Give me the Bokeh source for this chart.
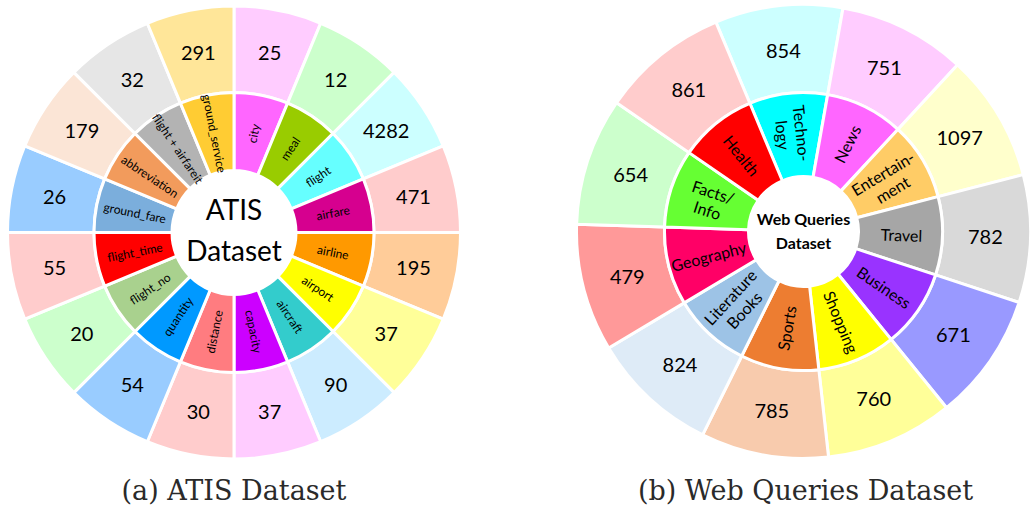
import math
from bokeh.plotting import figure
from bokeh.models import Range1d, ColumnDataSource
from bokeh.core.properties import value
from bokeh.embed import file_html
from bokeh.resources import INLINE

# ---------------- data ----------------
atis_labels = ["city", "meal", "flight", "airfare", "airline", "airport", "aircraft", "capacity",
               "distance", "quantity", "flight_no", "flight_time", "ground_fare", "abbreviation",
               "flight + airfareit", "ground_service"]
atis_counts = [25, 12, 4282, 471, 195, 37, 90, 37, 30, 54, 20, 55, 26, 179, 32, 291]
atis_inner_colors = ["#FF66FF", "#99CC00", "#66FFFF", "#D6008F", "#FF9900", "#FFFF00", "#33CCCC", "#CC00FF",
                     "#FF7C80", "#0099FF", "#A9D18E", "#FF0000", "#7BAEDC", "#F29B5C", "#B3B3B3", "#FFCC33"]
atis_outer_colors = ["#FFCCFF", "#CCFFCC", "#CCFFFF", "#FFCCCC", "#FFCC99", "#FFFF99", "#CCECFF", "#FFCCFF",
                     "#FFCCCC", "#99CCFF", "#CCFFCC", "#FFCCCC", "#99CCFF", "#FBE5D6", "#E6E6E6", "#FFE699"]

web_labels = ["Techno-\nlogy", "News", "Entertain-\nment", "Travel", "Business", "Shopping", "Sports",
              "Literature\nBooks", "Geography", "Facts/\nInfo", "Health"]
web_counts = [854, 751, 1097, 782, 671, 760, 785, 824, 479, 654, 861]
web_inner_colors = ["#00FFFF", "#FF66FF", "#FFCC66", "#A6A6A6", "#9933FF", "#FFFF00", "#ED7D31",
                    "#9DC3E6", "#FF0066", "#66FF33", "#FF0000"]
web_outer_colors = ["#CCFFFF", "#FFCCFF", "#FFFFCC", "#D9D9D9", "#9999FF", "#FFFF99", "#F8CBAD",
                    "#DEEBF7", "#FF9999", "#CCFFCC", "#FFCCCC"]

captions = ["(a) ATIS Dataset", "(b) Web Queries Dataset"]
center_titles = ["ATIS\nDataset", "Web Queries\nDataset"]

# ---------------- layout ----------------
W, H = 1030, 508
p = figure(width=W, height=H, x_range=Range1d(0, W), y_range=Range1d(0, H),
           min_border=0, outline_line_color=None, toolbar_location=None, output_backend="svg")
p.axis.visible = False
p.grid.visible = False
p.background_fill_color = "white"
p.border_fill_color = "white"

FONT = value("Lato")


def donut(cx, cy, r0, r1, r2, start_deg, labels, counts, inner_cols, outer_cols,
          label_size, num_size, label_r, num_r):
    n = len(labels)
    step = 360.0 / n
    starts, ends, mids, rots = [], [], [], []
    for k in range(n):
        hi = start_deg - k * step
        lo = hi - step
        m = (hi + lo) / 2.0
        m = ((m + 180) % 360) - 180
        starts.append(math.radians(lo))
        ends.append(math.radians(hi))
        mids.append(m)
        if m > 90:
            rots.append(math.radians(m - 180))
        elif m < -90:
            rots.append(math.radians(m + 180))
        else:
            rots.append(math.radians(m))
    src = ColumnDataSource(dict(
        s=starts, e=ends, ic=inner_cols, oc=outer_cols,
        lx=[cx + label_r * math.cos(math.radians(m)) for m in mids],
        ly=[cy + label_r * math.sin(math.radians(m)) for m in mids],
        nx=[cx + num_r * math.cos(math.radians(m)) for m in mids],
        ny=[cy + num_r * math.sin(math.radians(m)) for m in mids],
        rot=rots, lab=labels, num=[str(c) for c in counts]))
    p.annular_wedge(x=cx, y=cy, inner_radius=r1, outer_radius=r2, start_angle="s", end_angle="e",
                    fill_color="oc", line_color="white", line_width=3, source=src)
    p.annular_wedge(x=cx, y=cy, inner_radius=r0, outer_radius=r1, start_angle="s", end_angle="e",
                    fill_color="ic", line_color="white", line_width=3, source=src)
    p.text(x="lx", y="ly", text="lab", angle="rot", source=src, text_align="center",
           text_baseline="middle", text_font=FONT, text_font_size=label_size, text_color="black",
           text_line_height=1.0)
    p.text(x="nx", y="ny", text="num", source=src, text_align="center",
           text_baseline="middle", text_font=FONT, text_font_size=num_size, text_color="black")


# left: ATIS
lcx, lcy = 233.5, H - 232
donut(lcx, lcy, 62, 140, 226.5, 90.0, atis_labels, atis_counts, atis_inner_colors, atis_outer_colors,
      "12px", "20px", 101, 183)
p.text(x=[lcx], y=[H - 229], text=[center_titles[0]], text_align="center", text_baseline="middle",
       text_font=FONT, text_font_size="28px", text_color="black", text_line_height=1.18)

# right: Web Queries
rcx, rcy = 803, H - 231
donut(rcx, rcy, 55, 139, 227, 112.7, web_labels, web_counts, web_inner_colors, web_outer_colors,
      "16px", "20px", 98, 182)
p.text(x=[rcx], y=[H - 230], text=[center_titles[1]], text_align="center", text_baseline="middle",
       text_font=FONT, text_font_size="16px", text_font_style="bold", text_color="black",
       text_line_height=1.25)

# captions
p.text(x=[lcx, rcx + 2], y=[H - 490, H - 490], text=captions, text_align="center",
       text_baseline="middle", text_font=value("DejaVu Serif"), text_font_size="27px",
       text_color="#2a2a2a")

open("out.html", "w").write(file_html(p, INLINE))
